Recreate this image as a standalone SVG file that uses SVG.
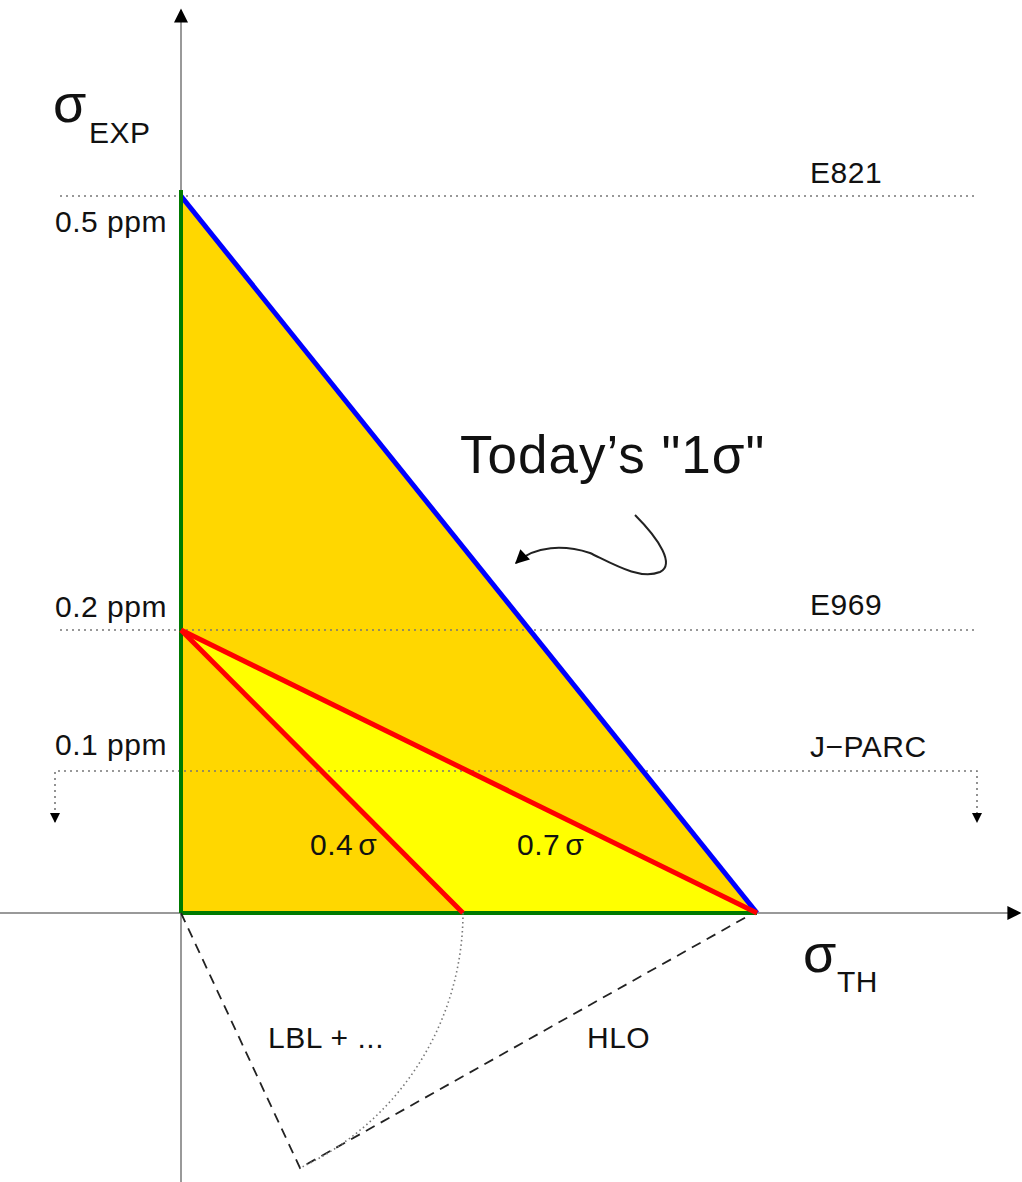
<svg xmlns="http://www.w3.org/2000/svg" width="1022" height="1182" viewBox="0 0 1022 1182">
<defs>
<style>
text{font-family:"Liberation Sans",Arial,sans-serif;fill:#111}
.lbl{font-size:30px;letter-spacing:0.5px}
.dot{stroke:#777;stroke-width:1.6;stroke-dasharray:2 4;fill:none}
.axis{stroke:#999;stroke-width:2;fill:none}
</style>
<marker id="ah" viewBox="0 0 10 10" refX="9" refY="5" markerWidth="10" markerHeight="10" markerUnits="userSpaceOnUse" orient="auto"><path d="M0,0 L10,5 L0,10 z" fill="#000"/></marker>
<marker id="ahBig" viewBox="0 0 10 10" refX="9" refY="5" markerWidth="18" markerHeight="14" markerUnits="userSpaceOnUse" orient="auto"><path d="M0,0 L10,5 L0,10 z" fill="#000"/></marker>
</defs>
<rect width="1022" height="1182" fill="#fff"/>
<g id="regions">
<polygon points="181,196 181,913 757,913" fill="#FFD700"/>
<polygon points="181,630 463,913 757,913" fill="#FFFF00"/>
</g>
<g id="connectors">
<line class="axis" x1="181" y1="1182" x2="181" y2="10" marker-end="url(#ahBig)"/>
<line class="axis" x1="0" y1="913" x2="1020" y2="913" marker-end="url(#ahBig)"/>
<line class="dot" x1="60" y1="196" x2="975" y2="196"/>
<line class="dot" x1="60" y1="630" x2="975" y2="630"/>
<polyline class="dot" points="55,822 55,771 977,771 977,822"/>
<path d="M55,800 L55,822" stroke="none" marker-end="url(#ah)"/>
<path d="M977,800 L977,822" stroke="none" marker-end="url(#ah)"/>
<line x1="181" y1="196" x2="757" y2="913" stroke="#0000FF" stroke-width="5"/>
<line x1="181" y1="190" x2="181" y2="913" stroke="#007A00" stroke-width="4"/>
<line x1="181" y1="913" x2="757" y2="913" stroke="#007A00" stroke-width="4"/>
<line x1="181" y1="630" x2="463" y2="913" stroke="#FF0000" stroke-width="5"/>
<line x1="181" y1="630" x2="757" y2="913" stroke="#FF0000" stroke-width="5"/>
<polyline points="181,913 300,1168 748,916" fill="none" stroke="#222" stroke-width="1.8" stroke-dasharray="10 7"/>
<path class="dot" d="M463,913 A282,282 0 0 1 300,1168" style="stroke-dasharray:1.5 3"/>
<path d="M635,515 C660,540 675,565 660,572 C640,580 615,565 590,553 C565,545 535,545 516,563" fill="none" stroke="#222" stroke-width="2" marker-end="url(#ahBig)"/>
</g>
<g id="labels">
<text x="53" y="122" font-size="54">σ</text>
<text x="89" y="143" class="lbl">EXP</text>
<text x="55" y="232" class="lbl">0.5 ppm</text>
<text x="55" y="617" class="lbl">0.2 ppm</text>
<text x="55" y="755" class="lbl">0.1 ppm</text>
<text x="810" y="183" class="lbl">E821</text>
<text x="810" y="615" class="lbl">E969</text>
<text x="810" y="757" class="lbl">J−PARC</text>
<text x="460" y="473" font-size="53" letter-spacing="1">Today’s "1σ"</text>
<text x="310" y="855" class="lbl">0.4<tspan dx="5">σ</tspan></text>
<text x="517" y="855" class="lbl">0.7<tspan dx="5">σ</tspan></text>
<text x="803" y="972" font-size="54">σ</text>
<text x="837" y="992" class="lbl">TH</text>
<text x="268" y="1048" class="lbl">LBL + ...</text>
<text x="587" y="1048" class="lbl">HLO</text>
</g>
</svg>
